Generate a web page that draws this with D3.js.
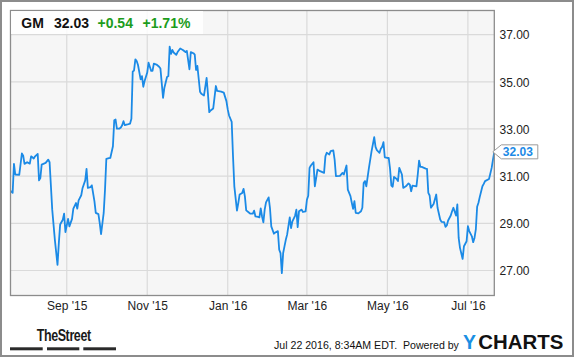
<!DOCTYPE html>
<html><head><meta charset="utf-8">
<script src="https://cdn.jsdelivr.net/npm/d3@7"></script>
<style>
html,body{margin:0;padding:0;background:#fff;}
svg{display:block;font-family:Arial,"Liberation Sans",sans-serif;}
</style></head>
<body>
<svg id="chart" width="575" height="358"></svg>
<script>
// ---- data ----
const startDate = "2015-07-20";
const endOffset = 367; // Jul 21 2016
const dayOffsets = [0,2,3,4,7,9,10,11,13,15,16,18,19,21,22,23,24,27,29,30,32,34,36,37,38,40,41,42,44,45,47,48,50,51,52,54,55,57,58,59,61,62,64,65,67,68,69,71,72,73,75,76,78,79,80,81,83,84,85,86,87,89,91,92,93,94,95,96,97,99,100,101,102,104,105,107,108,109,111,113,114,116,117,119,120,121,122,123,124,126,127,129,131,133,134,136,137,139,140,141,142,144,145,147,149,150,151,152,154,156,157,160,162,164,165,166,168,169,170,172,173,174,176,177,178,179,181,182,184,185,186,188,189,190,191,192,193,194,196,197,198,200,201,203,204,205,206,207,208,209,210,212,213,214,216,217,218,219,221,222,224,225,226,227,228,230,231,232,233,235,238,239,240,242,243,245,246,247,250,252,253,255,256,258,259,260,261,262,264,266,267,268,269,270,272,274,276,277,278,280,281,282,283,284,286,287,288,289,290,291,293,294,295,297,298,300,302,303,304,305,308,309,310,311,312,315,316,317,318,319,321,323,324,326,327,329,330,331,332,334,335,336,338,339,340,341,343,344,346,347,348,350,351,352,353,354,355,356,358,359,360,363,365,366,367];
const prices = [30.39,30.29,31.52,31.07,31.05,31.96,31.87,31.52,31.59,31.53,31.84,31.75,31.84,31.94,30.82,30.92,31.49,31.56,31.70,31.59,29.58,28.30,27.24,28.16,28.95,29.15,29.41,28.63,29.19,28.87,29.19,29.62,29.86,29.62,29.97,30.19,30.50,30.82,31.31,30.50,30.53,30.61,29.93,29.44,29.39,29.01,28.54,29.44,30.43,31.73,31.76,31.77,32.27,33.37,33.40,33.01,33.02,33.06,33.16,33.33,33.16,33.19,33.23,33.43,35.43,35.48,35.95,35.88,35.71,35.10,35.24,34.79,35.03,35.39,35.81,35.46,35.46,35.77,35.73,35.64,35.56,34.32,34.75,35.20,35.24,36.49,36.18,36.35,36.24,36.14,36.26,36.41,36.35,36.26,36.31,35.53,36.26,36.21,36.15,35.50,35.67,34.58,34.49,34.42,35.16,34.49,33.71,33.78,33.87,34.82,34.61,34.58,34.54,34.18,33.83,33.57,33.30,31.84,30.57,29.54,29.86,30.22,30.29,30.46,30.14,29.55,29.46,29.41,29.41,29.54,29.29,29.27,29.25,29.63,29.29,29.04,29.58,29.89,30.10,29.65,28.87,28.56,28.61,28.67,27.88,27.74,26.89,27.74,28.02,28.30,28.52,29.25,28.80,29.08,29.32,29.58,28.84,29.51,29.58,29.48,29.51,30.00,30.17,31.35,31.45,31.59,30.57,30.92,31.28,31.21,31.14,31.84,31.99,31.92,32.06,32.09,31.70,31.00,31.01,31.14,31.07,31.45,30.43,30.15,29.87,29.61,29.94,29.44,29.42,29.51,29.66,30.71,30.79,30.57,31.35,32.06,32.65,32.24,32.10,31.99,32.16,32.24,32.44,31.80,31.77,31.77,31.31,30.60,30.55,30.97,30.88,30.79,31.35,31.07,30.50,30.57,30.69,30.64,30.36,30.60,30.57,31.07,31.66,31.39,31.39,31.32,31.31,30.29,30.18,29.66,29.82,30.22,29.66,29.16,29.06,29.05,28.85,28.91,29.12,29.33,29.51,29.66,29.33,29.80,28.38,27.96,27.49,28.03,28.24,28.88,28.67,28.45,28.20,28.38,28.74,29.70,29.87,30.12,30.57,30.67,30.79,30.88,31.35,31.70,32.03];
const xTickDates = ["2015-09-01","2015-11-01","2016-01-01","2016-03-01","2016-05-01","2016-07-01"];
const xTickLabels = ["Sep '15","Nov '15","Jan '16","Mar '16","May '16","Jul '16"];
const yTicks = [27,29,31,33,35,37];
const ticker = "GM";
const lastPrice = "32.03";
const change = "+0.54";
const changePct = "+1.71%";
const stamp = "Jul 22 2016, 8:34AM EDT.  Powered by";

// ---- drawing ----
const parse = d3.timeParse("%Y-%m-%d");
const start = parse(startDate);
const dates = dayOffsets.map(d => d3.timeDay.offset(start, d));
const data = dates.map((d, i) => ({date: d, v: prices[i]}));

const L = 10, R = 494.3, T = 10, B = 295.5;
const x = d3.scaleTime().domain([start, d3.timeDay.offset(start, endOffset)]).range([L, R]);
const y = d3.scaleLinear().domain([27, 37]).range([270.5, 34.6]);

const svg = d3.select("#chart");

// outer border
svg.append("rect").attr("x",1).attr("y",1).attr("width",572).attr("height",355)
  .attr("fill","#fff").attr("stroke","#8c8c8c").attr("stroke-width",2);

// plot background
svg.append("rect").attr("x",L).attr("y",T).attr("width",R-L).attr("height",B-T)
  .attr("fill","#f6f6f6");

// gridlines
const grid = svg.append("g").attr("stroke","#dadada").attr("stroke-width",1.2);
grid.selectAll("line.h").data(yTicks).join("line")
  .attr("x1",L).attr("x2",R).attr("y1",d=>y(d)).attr("y2",d=>y(d));
grid.selectAll("line.v").data(xTickDates).join("line")
  .attr("y1",T).attr("y2",B).attr("x1",d=>x(parse(d))).attr("x2",d=>x(parse(d)));

// line
svg.append("clipPath").attr("id","clip").append("rect")
  .attr("x",L).attr("y",T).attr("width",R-L).attr("height",B-T);
svg.append("path").datum(data)
  .attr("clip-path","url(#clip)")
  .attr("fill","none").attr("stroke","#1b8ae6").attr("stroke-width",1.8)
  .attr("stroke-linejoin","round")
  .attr("d", d3.line().x(d=>x(d.date)).y(d=>y(d.v)));

// plot frame
svg.append("rect").attr("x",L+0.5).attr("y",T+0.5).attr("width",R-L-0.5).attr("height",B-T-0.5)
  .attr("fill","none").attr("stroke","#8c8c8c").attr("stroke-width",1.3);

// x axis labels
const xAxis = d3.axisBottom(x).tickValues(xTickDates.map(parse))
  .tickFormat((d,i)=>xTickLabels[i]).tickSize(0).tickPadding(0);
const gx = svg.append("g").attr("transform",`translate(0,${B})`).call(xAxis);
gx.select(".domain").remove();
gx.selectAll("text").attr("y",14.5).attr("dy",0).attr("fill","#222")
  .style("font-size","12px").style("font-family","Arial, 'Liberation Sans', sans-serif");

// y axis labels
const yAxis = d3.axisRight(y).tickValues(yTicks).tickFormat(d3.format(".2f")).tickSize(0).tickPadding(5.2);
const gy = svg.append("g").attr("transform",`translate(${R},0)`).call(yAxis);
gy.select(".domain").remove();
gy.selectAll("text").attr("dy","0.36em").attr("fill","#222")
  .style("font-size","12px").style("font-family","Arial, 'Liberation Sans', sans-serif");

// last value label
const last = data[data.length-1];
const ly = y(last.v);
const tipX = R - 1.5;
svg.append("path")
  .attr("d",`M${tipX},${ly} L${R+7},${ly-7} H${R+43.5} V${ly+7} H${R+7} Z`)
  .attr("fill","#fff").attr("stroke","#9a9a9a").attr("stroke-width",1);
svg.append("text").attr("x",R+8.5).attr("y",ly+4.2)
  .attr("fill","#1b8ae6").attr("font-weight","bold").attr("font-size","12px")
  .text(lastPrice);

// header box
svg.append("rect").attr("x",L+1).attr("y",T+1).attr("width",192).attr("height",23)
  .attr("fill","#fff").attr("fill-opacity",0.85);
const hdr = svg.append("text").attr("y",28.3).attr("font-weight","bold").attr("font-size","14px");
hdr.append("tspan").attr("x",21.3).attr("fill","#111").text(ticker);
hdr.append("tspan").attr("x",54).attr("fill","#111").text(lastPrice);
hdr.append("tspan").attr("x",97.5).attr("fill","#1c9c1c").text(change);
hdr.append("tspan").attr("x",142.5).attr("fill","#1c9c1c").text(changePct);

// footer: TheStreet logo
svg.append("text").attr("x",36.7).attr("y",341).attr("font-weight","bold").attr("font-size","16px")
  .attr("fill","#1a1a1a").attr("textLength",54).attr("lengthAdjust","spacingAndGlyphs")
  .style("letter-spacing","-0.5px").text("TheStreet");
svg.selectAll("rect.bar").data([[10,42.7],[47,79.3],[83.3,116]]).join("rect")
  .attr("x",d=>d[0]).attr("width",d=>d[1]-d[0]).attr("y",347.3).attr("height",3)
  .attr("fill","#2a2a2a");

// footer: timestamp and YCHARTS
svg.append("text").attr("x",274).attr("y",348.5).attr("font-size","10.6px").attr("fill","#111")
  .style("white-space","pre").text(stamp);
svg.append("text").attr("x",463).attr("y",349).attr("font-weight","bold").attr("font-size","19.5px")
  .attr("fill","#1a8fe3").text("Y");
svg.append("text").attr("x",478.3).attr("y",349).attr("font-weight","bold").attr("font-size","19.5px")
  .attr("fill","#111").attr("textLength",85).attr("lengthAdjust","spacingAndGlyphs").text("CHARTS");
</script>
</body></html>
